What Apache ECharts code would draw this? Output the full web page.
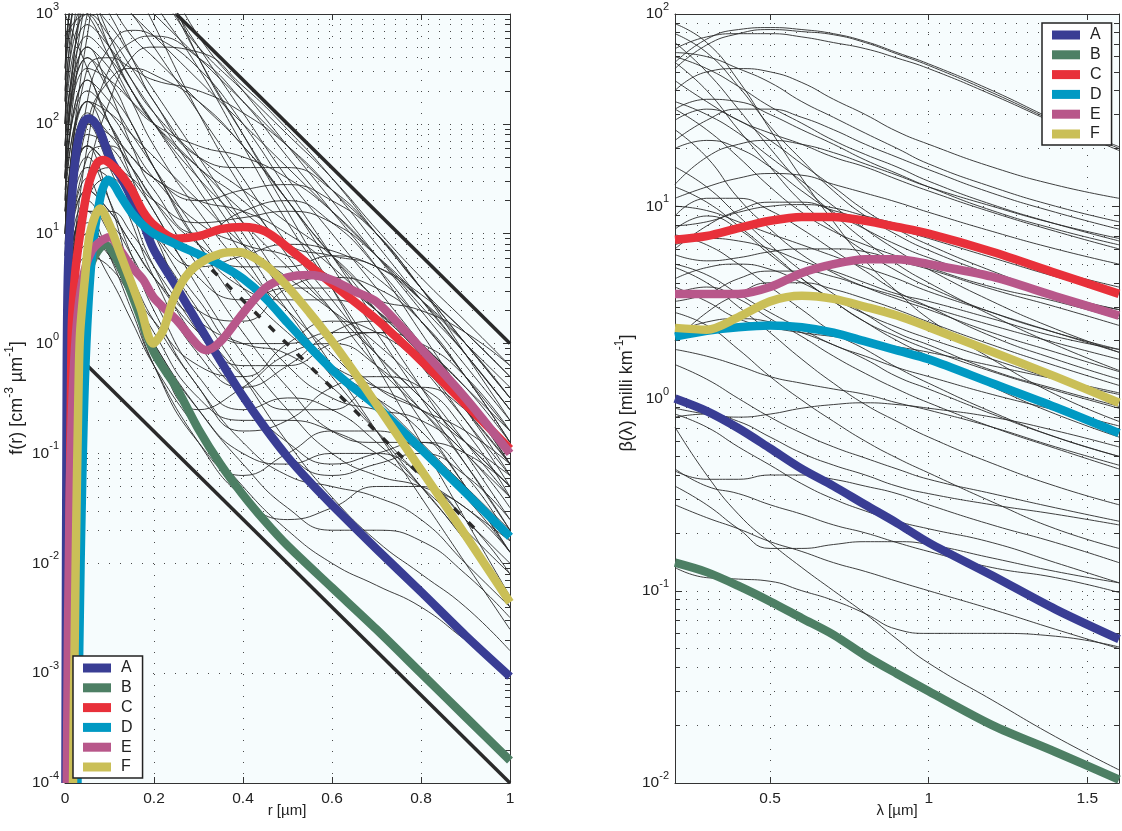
<!DOCTYPE html>
<html>
<head>
<meta charset="utf-8">
<script src="https://cdn.jsdelivr.net/npm/echarts@6/dist/echarts.min.js"></script>
<style>
  html, body { margin: 0; padding: 0; background: #ffffff; }
  #chart { width: 1122px; height: 831px; }
</style>
</head>
<body>
<div id="chart"></div>
<script>
// ---------- size distributions f(r), left panel ----------
const radiusTicks = [0, 0.2, 0.4, 0.6, 0.8, 1];
const radiusGrid = [0, 0.05, 0.1, 0.15, 0.2, 0.3, 0.4, 0.5, 0.6, 0.7, 0.8, 0.9, 1.0];

// ensemble of candidate distributions (values at radiusGrid)
const sizeEnsemble = [
  [100, 4000, 6300, 5000, 3200, 630, 200, 63, 20, 6.3, 2, 0.63, 0.2],
  [32, 1600, 3200, 3200, 2000, 500, 126, 32, 10, 3.2, 1, 0.32, 0.1],
  [320, 3200, 2500, 1600, 1000, 400, 160, 63, 25, 10, 3.2, 1.26, 0.5],
  [63, 2000, 4000, 2500, 1260, 320, 63, 12.6, 3.2, 0.8, 0.2, 0.05, 0.0126],
  [160, 6300, 5000, 2000, 800, 126, 25, 6.3, 2, 0.63, 0.25, 0.1, 0.04],
  [10, 630, 2500, 2000, 1600, 500, 200, 80, 32, 11, 4, 1.6, 0.63],
  [3.2, 160, 500, 710, 630, 320, 100, 25, 6.3, 1.6, 0.4, 0.1, 0.025],
  [1, 63, 320, 560, 630, 400, 160, 50, 16, 5, 1.26, 0.32, 0.08],
  [10, 320, 400, 320, 250, 200, 126, 63, 25, 8, 2.5, 0.8, 0.25],
  [32, 500, 320, 160, 100, 63, 50, 32, 16, 6.3, 2.2, 0.8, 0.25],
  [2, 32, 160, 400, 500, 450, 220, 89, 32, 10, 3.2, 1, 0.32],
  [6.3, 100, 250, 320, 280, 160, 63, 20, 5, 1.26, 0.32, 0.08, 0.02],
  [3200, 1600, 500, 200, 100, 32, 12.6, 5, 2, 0.8, 0.32, 0.126, 0.05],
  [1600, 1000, 400, 160, 63, 16, 5, 2, 0.8, 0.32, 0.126, 0.05, 0.02],
  [6300, 2000, 630, 250, 126, 50, 25, 12.6, 6.3, 2.5, 1, 0.4, 0.16],
  [630, 1000, 630, 320, 160, 40, 10, 2.5, 0.63, 0.16, 0.04, 0.01, 0.0025],
  [1000, 320, 100, 50, 32, 20, 16, 10, 5, 2, 0.8, 0.25, 0.08],
  [3.2, 25, 40, 32, 20, 12.6, 14, 16, 12.6, 6.3, 2.5, 0.8, 0.25],
  [16, 63, 40, 20, 10, 5, 6.3, 8, 7, 4, 1.6, 0.5, 0.16],
  [6.3, 160, 100, 40, 16, 4, 2.5, 3.2, 3.2, 2, 0.8, 0.25, 0.063],
  [32, 200, 126, 63, 32, 12.6, 8, 6.3, 4, 2, 0.8, 0.32, 0.1],
  [1.6, 20, 32, 20, 10, 2.5, 1, 1, 1.26, 1.26, 0.8, 0.32, 0.1],
  [10, 100, 80, 50, 32, 20, 25, 28, 20, 10, 3.2, 1, 0.32],
  [4, 50, 63, 40, 20, 8, 5, 5, 6.3, 5, 2.8, 1.26, 0.5],
  [20, 250, 160, 80, 40, 10, 3.2, 1.26, 0.63, 0.4, 0.25, 0.126, 0.063],
  [1, 10, 8, 3.2, 1.26, 0.32, 0.2, 0.2, 0.16, 0.1, 0.05, 0.02, 0.008],
  [3.2, 20, 10, 4, 1.6, 0.4, 0.126, 0.063, 0.05, 0.04, 0.025, 0.01, 0.004],
  [0.63, 6.3, 5, 2.5, 1, 0.25, 0.1, 0.08, 0.1, 0.1, 0.063, 0.025, 0.01],
  [2, 16, 12.6, 6.3, 2.5, 0.5, 0.25, 0.32, 0.25, 0.126, 0.05, 0.016, 0.005],
  [1.26, 8, 4, 1.6, 0.63, 0.16, 0.05, 0.02, 0.01, 0.0063, 0.004, 0.002, 0.001],
  [2.5, 12.6, 6.3, 2.5, 1, 0.25, 0.08, 0.032, 0.02, 0.02, 0.016, 0.008, 0.0032],
  [32, 400, 250, 100, 40, 8, 2, 0.63, 0.32, 0.25, 0.2, 0.1, 0.032],
  [10, 126, 80, 40, 20, 5, 1.26, 0.4, 0.16, 0.126, 0.126, 0.063, 0.016],
  [100, 800, 500, 250, 126, 32, 8, 2, 0.63, 0.32, 0.16, 0.05, 0.0126],
  [5, 80, 63, 32, 16, 3.2, 0.8, 0.25, 0.1, 0.063, 0.05, 0.032, 0.0126],
  [63, 630, 400, 200, 100, 25, 6.3, 1.6, 0.5, 0.16, 0.05, 0.016, 0.004],
  [3.2, 40, 32, 16, 8, 2, 0.5, 0.126, 0.04, 0.016, 0.008, 0.004, 0.0016],
  [200, 1260, 800, 400, 200, 50, 12.6, 3.2, 1, 0.4, 0.25, 0.16, 0.08],
  [16, 160, 126, 80, 50, 20, 8, 4, 2, 1, 0.4, 0.126, 0.04],
  [100, 8000, 10000, 6300, 3200, 400, 80, 20, 6.3, 2, 0.63, 0.2, 0.063],
  [32, 3200, 8000, 6300, 2500, 400, 80, 16, 3.2, 0.63, 0.126, 0.025, 0.005],
  [500, 2500, 1260, 630, 400, 160, 63, 20, 6.3, 2.5, 1, 0.4, 0.126],
  [20, 1000, 1600, 1000, 500, 126, 32, 8, 2.5, 0.8, 0.32, 0.126, 0.05],
  [1, 10, 6.3, 3.2, 1.6, 0.63, 0.5, 1, 1.6, 1.26, 0.63, 0.2, 0.05],
  [2.5, 25, 16, 8, 4, 1.26, 0.63, 0.63, 1, 1.26, 1, 0.5, 0.16],
  [8, 63, 40, 20, 8, 1.6, 0.5, 0.25, 0.25, 0.4, 0.4, 0.25, 0.1],
  [1.6, 16, 16, 10, 5, 1.26, 0.32, 0.1, 0.063, 0.08, 0.1, 0.063, 0.025],
  [40, 320, 250, 160, 100, 40, 16, 8, 4, 2.5, 2, 1.26, 0.63],
  [250, 2000, 1600, 1000, 630, 250, 100, 40, 16, 6.3, 2.5, 1, 0.4],
  [10, 63, 20, 4, 1, 0.25, 0.4, 0.8, 1, 0.63, 0.25, 0.08, 0.02],
  [3.2, 32, 10, 2.5, 0.63, 0.126, 0.063, 0.1, 0.16, 0.16, 0.1, 0.04, 0.0126],
  [100, 500, 200, 63, 25, 10, 16, 20, 12.6, 5, 1.6, 0.5, 0.126],
  [32, 250, 100, 32, 10, 2, 1.6, 3.2, 4, 3.2, 1.6, 0.5, 0.126],
  [320, 2000, 1000, 400, 160, 50, 40, 40, 25, 10, 3.2, 0.8, 0.2],
  [6.3, 50, 20, 6.3, 2, 0.4, 0.16, 0.2, 0.4, 0.5, 0.4, 0.16, 0.04],
  [16, 100, 40, 12.6, 4, 0.8, 0.4, 0.63, 1.26, 1.6, 1, 0.32, 0.08],
  [2, 16, 6.3, 2, 0.63, 0.126, 0.04, 0.025, 0.032, 0.05, 0.05, 0.025, 0.008],
  [63, 400, 200, 100, 40, 8, 3.2, 2.5, 2.5, 1.6, 0.63, 0.25, 0.08],
  [160, 1000, 500, 200, 100, 40, 20, 8, 6.3, 5, 2.5, 1, 0.32],
  [4, 25, 16, 8, 4, 1.6, 1, 0.8, 0.4, 0.16, 0.063, 0.032, 0.016],
  [25, 160, 63, 16, 5, 1, 0.32, 0.126, 0.08, 0.1, 0.126, 0.1, 0.05]
];

// bounding lines and reference slope [r, f]
const upperBound = [[0.25, 1000], [1.0, 1]];
const lowerBound = [[0.05, 0.63], [1.0, 1e-4]];
const referenceSlope = [[0.33, 4.7], [0.93, 0.019]];

// highlighted distributions [r, f]
const distA = [[0.001,1e-4],[0.004,0.6],[0.007,5],[0.015,20],[0.026,58],[0.04,100],[0.052,112],[0.065,105],[0.08,83],[0.1,50],[0.125,33],[0.15,21],[0.175,12.6],[0.2,7.1],[0.25,3.3],[0.3,1.5],[0.35,0.69],[0.4,0.33],[0.45,0.17],[0.5,0.093],[0.55,0.055],[0.6,0.034],[0.7,0.0135],[0.8,0.0055],[0.9,0.0022],[1.0,0.00093]];
const distB = [[0.008,1e-4],[0.012,0.01],[0.02,0.3],[0.035,2],[0.06,5.5],[0.09,8],[0.11,6.5],[0.13,4.5],[0.16,2.2],[0.2,0.83],[0.25,0.4],[0.3,0.166],[0.35,0.079],[0.4,0.042],[0.45,0.024],[0.5,0.0145],[0.6,0.006],[0.7,0.0025],[0.8,0.001],[0.9,0.0004],[1.0,0.00016]];
const distC = [[0.006,1e-4],[0.01,0.01],[0.015,1.3],[0.022,4],[0.034,10],[0.052,27],[0.072,44],[0.086,47],[0.1,44],[0.125,35],[0.15,25],[0.175,16],[0.2,12],[0.25,9],[0.3,9.5],[0.35,11],[0.4,11.5],[0.45,10.5],[0.5,7.5],[0.6,3.5],[0.7,1.66],[0.8,0.7],[0.9,0.28],[1.0,0.11]];
const distD = [[0.028,1e-4],[0.035,0.01],[0.045,0.5],[0.06,6],[0.08,22],[0.097,31],[0.11,28],[0.125,22],[0.15,15.5],[0.175,12],[0.2,10],[0.25,8],[0.3,6.5],[0.35,5.2],[0.4,3.9],[0.45,2.6],[0.5,1.55],[0.55,0.93],[0.6,0.58],[0.65,0.39],[0.7,0.27],[0.8,0.11],[0.9,0.044],[1.0,0.0174]];
const distE = [[0.004,1e-4],[0.01,0.03],[0.02,0.6],[0.035,3],[0.06,7],[0.1,9.3],[0.125,7],[0.15,5],[0.176,3.8],[0.2,2.6],[0.25,1.65],[0.3,0.95],[0.318,0.87],[0.35,1.05],[0.393,1.74],[0.45,3.2],[0.5,4.0],[0.55,4.2],[0.6,3.8],[0.65,3.0],[0.7,2.4],[0.8,0.9],[0.9,0.32],[1.0,0.1]];
const distF = [[0.018,1e-4],[0.024,0.01],[0.03,0.32],[0.034,1.26],[0.045,4],[0.056,10],[0.079,17],[0.1,12],[0.124,6.6],[0.15,3.5],[0.17,2.1],[0.198,1.0],[0.22,1.3],[0.243,2.5],[0.27,4],[0.303,5.4],[0.35,6.6],[0.39,6.8],[0.45,5.2],[0.5,3.3],[0.55,1.9],[0.6,1.05],[0.65,0.55],[0.7,0.28],[0.8,0.071],[0.9,0.018],[1.0,0.0044]];

// ---------- backscatter spectra beta(lambda), right panel ----------
const lambdaTicks = [0.5, 1, 1.5];
const lambdaGrid = [0.2, 0.3, 0.4, 0.5, 0.6, 0.7, 0.8, 0.9, 1.0, 1.2, 1.4, 1.6];

const betaEnsemble = [
  [56, 74, 83, 85, 83, 79, 72, 63, 55, 40, 28, 20.4],
  [52, 69, 79, 83, 81, 78, 71, 62, 54, 39, 27.5, 20],
  [66, 76, 79, 79, 76, 71, 66, 59, 52, 38, 27, 19.5],
  [63, 60, 52, 44, 35, 29, 24, 20, 16.6, 12.6, 10, 8.3],
  [40, 50, 52, 50, 44, 36, 30, 24.5, 21, 16, 12.9, 11],
  [79, 63, 42, 26, 17.4, 12, 8.9, 7.1, 5.9, 4.4, 3.4, 2.8],
  [32, 36, 35, 30, 25, 21, 17.4, 14.8, 12.6, 9.5, 7.6, 6.3],
  [22, 28, 32, 32, 29, 25, 21, 18, 15.5, 11.7, 9.3, 7.6],
  [89, 71, 45, 25, 14, 8.3, 5.2, 3.6, 2.6, 1.6, 1.05, 0.76],
  [56, 40, 25, 16, 10.5, 7.6, 5.8, 4.6, 3.8, 2.8, 2.2, 1.8],
  [32, 25, 18, 12.6, 9.3, 7.4, 6.3, 5.5, 4.8, 3.8, 3.2, 2.6],
  [20, 22, 20, 16, 12, 9.3, 7.6, 6.3, 5.4, 4.2, 3.4, 2.9],
  [13, 18, 21, 22, 21, 19, 16.6, 14.5, 12.6, 10, 8.1, 6.8],
  [11, 12.6, 14, 14.8, 14.5, 13, 11.7, 10.5, 9.3, 7.4, 6, 5],
  [10, 9.5, 8.3, 7.2, 6.3, 5.5, 4.8, 4.2, 3.6, 2.8, 2.2, 1.74],
  [8.9, 11, 11, 9.5, 7.6, 5.9, 4.6, 3.6, 3, 2.1, 1.6, 1.26],
  [7.9, 8.3, 9.3, 10, 10.2, 9.8, 8.9, 8.1, 7.2, 5.8, 4.6, 3.8],
  [7.1, 6.3, 5, 3.8, 2.9, 2.2, 1.8, 1.45, 1.2, 0.85, 0.63, 0.5],
  [6.3, 6.8, 6.6, 6, 5.2, 4.6, 4, 3.5, 3.2, 2.6, 2.1, 1.8],
  [5.6, 5.2, 5.4, 5.8, 6, 6, 5.8, 5.2, 4.7, 3.7, 3, 2.4],
  [5, 4.4, 3.5, 2.8, 2.3, 1.9, 1.66, 1.45, 1.3, 1.05, 0.87, 0.72],
  [4.2, 4.8, 5, 4.7, 4, 3.3, 2.75, 2.35, 2.05, 1.6, 1.26, 1.05],
  [3.8, 3.2, 2.6, 2.35, 2.2, 2.1, 2, 1.86, 1.74, 1.48, 1.26, 1.07],
  [3.2, 3.5, 4.2, 4.6, 4.6, 4.3, 3.8, 3.4, 3, 2.4, 1.95, 1.6],
  [2.8, 2.4, 1.8, 1.3, 0.98, 0.76, 0.6, 0.49, 0.41, 0.29, 0.21, 0.166],
  [2.2, 2.5, 2.6, 2.5, 2.2, 1.9, 1.6, 1.3, 1.12, 0.83, 0.63, 0.5],
  [1.8, 1.66, 1.48, 1.3, 1.2, 1.12, 1.05, 0.95, 0.87, 0.71, 0.56, 0.45],
  [1.5, 1.26, 1, 0.8, 0.66, 0.56, 0.49, 0.43, 0.38, 0.32, 0.27, 0.23],
  [0.89, 0.83, 0.8, 0.83, 0.89, 0.93, 0.95, 0.93, 0.89, 0.8, 0.68, 0.56],
  [0.83, 0.71, 0.56, 0.45, 0.36, 0.3, 0.26, 0.23, 0.21, 0.178, 0.14, 0.11],
  [0.8, 0.83, 0.76, 0.63, 0.52, 0.45, 0.4, 0.35, 0.32, 0.28, 0.25, 0.22],
  [0.42, 0.38, 0.38, 0.4, 0.4, 0.38, 0.35, 0.32, 0.28, 0.22, 0.178, 0.14],
  [0.132, 0.117, 0.115, 0.112, 0.1, 0.089, 0.076, 0.063, 0.06, 0.06, 0.058, 0.051],
  [0.71, 0.4, 0.25, 0.178, 0.132, 0.1, 0.076, 0.056, 0.042, 0.027, 0.0174, 0.0117],
  [0.28, 0.24, 0.21, 0.18, 0.16, 0.14, 0.126, 0.112, 0.1, 0.08, 0.063, 0.05],
  [0.35, 0.28, 0.21, 0.166, 0.166, 0.174, 0.18, 0.18, 0.174, 0.148, 0.126, 0.11],
  [0.43, 0.35, 0.32, 0.28, 0.25, 0.22, 0.2, 0.178, 0.16, 0.132, 0.117, 0.098],
  [45, 35, 28, 24, 21, 18, 16, 13.8, 12, 9.3, 7.4, 6],
  [25, 18, 11, 7.6, 5.6, 4.5, 3.8, 3.3, 2.9, 2.2, 1.74, 1.38],
  [12.6, 10.5, 7.9, 5.8, 4.2, 3.2, 2.5, 2, 1.66, 1.15, 0.83, 0.63],
  [6, 7.9, 9.5, 10.5, 10.5, 9.5, 8.5, 7.6, 6.8, 5.4, 4.3, 3.5],
  [71, 50, 32, 20, 13, 9.1, 6.6, 5, 4, 2.7, 1.9, 1.4],
  [35, 30, 24, 18, 13.5, 10, 7.6, 5.9, 4.7, 3.2, 2.3, 1.74],
  [2, 2.8, 3.5, 4, 4, 3.7, 3.3, 2.9, 2.5, 1.9, 1.48, 1.17],
  [16, 12.6, 8.9, 6.3, 4.6, 3.5, 2.75, 2.2, 1.9, 1.4, 1.12, 0.91],
  [4.8, 4, 3, 2.2, 1.6, 1.2, 0.93, 0.76, 0.63, 0.46, 0.35, 0.28],
  [28, 32, 28, 22, 16.6, 12.6, 9.5, 7.6, 6.3, 4.6, 3.5, 2.9],
  [3.5, 3.8, 3.3, 2.6, 2.1, 1.66, 1.35, 1.12, 0.95, 0.71, 0.55, 0.43],
  [7.6, 8.9, 7.6, 5.6, 4.2, 3.2, 2.5, 2.1, 1.8, 1.38, 1.1, 0.89],
  [60, 52, 42, 33, 27, 22, 18.6, 16, 13.5, 10.2, 8.1, 6.6]
];

// highlighted spectra [lambda, beta]
const betaA = [[0.2,1.0],[0.3,0.86],[0.4,0.7],[0.5,0.55],[0.6,0.43],[0.7,0.35],[0.8,0.28],[0.9,0.225],[1.0,0.178],[1.2,0.12],[1.4,0.08],[1.6,0.056]];
const betaB = [[0.2,0.14],[0.3,0.125],[0.4,0.106],[0.5,0.088],[0.6,0.072],[0.7,0.059],[0.8,0.046],[0.9,0.037],[1.0,0.030],[1.2,0.02],[1.4,0.0145],[1.6,0.0104]];
const betaC = [[0.2,6.7],[0.3,7.0],[0.4,7.7],[0.5,8.4],[0.6,8.8],[0.7,8.8],[0.8,8.4],[0.9,7.8],[1.0,7.2],[1.2,5.8],[1.4,4.5],[1.6,3.5]];
const betaD = [[0.2,2.1],[0.3,2.25],[0.4,2.35],[0.5,2.4],[0.6,2.35],[0.7,2.2],[0.8,1.98],[0.9,1.78],[1.0,1.6],[1.2,1.2],[1.4,0.9],[1.6,0.66]];
const betaE = [[0.2,3.5],[0.3,3.5],[0.4,3.5],[0.5,3.8],[0.6,4.5],[0.7,5.0],[0.8,5.3],[0.9,5.3],[1.0,5.0],[1.2,4.3],[1.4,3.4],[1.6,2.7]];
const betaF = [[0.2,2.33],[0.3,2.28],[0.4,2.65],[0.5,3.2],[0.6,3.42],[0.7,3.3],[0.8,3.0],[0.9,2.7],[1.0,2.35],[1.2,1.75],[1.4,1.3],[1.6,0.95]];

const caseNames = ['A', 'B', 'C', 'D', 'E', 'F'];

// ---------- styling ----------
const FONT = '"Liberation Sans", Arial, Helvetica, sans-serif';
const caseColors = ['#393d94', '#4d7f64', '#e8303a', '#0099c3', '#b8578a', '#cabf57'];
const ink = '#2a2a2a';
const panelBg = '#f6fcfd';
const dotted = { type: [1, 10], color: '#4a4a4a', width: 1 };
const TICK_FONT = 15.5;
const TITLE_FONT = 18;

const panelL = { left: 65, top: 14, width: 445, height: 769 };
const panelR = { left: 675, top: 14, width: 444, height: 769 };

const tickRich = {
  b: { fontSize: TICK_FONT, color: '#222', fontFamily: FONT },
  s: { fontSize: 11, color: '#222', fontFamily: FONT, padding: [0, 0, 14, 0] }
};
const powerLabel = v => '{b|10}{s|' + Math.round(Math.log10(v)) + '}';

function minorDecadeValues(lo, hi) {
  const out = [];
  for (let e = lo; e < hi; e++) for (let m = 2; m <= 9; m++) out.push(m * Math.pow(10, e));
  return out;
}

// dotted minor grid + short minor ticks on both vertical frame edges
function gridHelper(xi, yi, xMin, xMax, eLo, eHi, widthPx, verticalLines) {
  const tick = { type: 'solid', color: '#333', width: 1 };
  const dx = 5 / widthPx * (xMax - xMin);
  const lines = [];
  minorDecadeValues(eLo, eHi).forEach(v => {
    lines.push({ yAxis: v, lineStyle: dotted });
    lines.push([{ coord: [xMin, v], lineStyle: tick }, { coord: [xMin + dx, v], lineStyle: tick }]);
    lines.push([{ coord: [xMax - dx, v], lineStyle: tick }, { coord: [xMax, v], lineStyle: tick }]);
  });
  verticalLines.forEach(x => lines.push({ xAxis: x, lineStyle: dotted }));
  return {
    type: 'line', xAxisIndex: xi, yAxisIndex: yi, silent: true, z: 1,
    data: [[xMin, Math.pow(10, eLo)]], showSymbol: false, lineStyle: { width: 0 },
    markLine: { silent: true, z: 1, symbol: ['none', 'none'], label: { show: false }, animation: false, data: lines }
  };
}

function thinSeries(xs, rows, xi, yi) {
  return rows.map(row => ({
    type: 'line', xAxisIndex: xi, yAxisIndex: yi, silent: true, z: 2,
    data: xs.map((x, i) => [x, row[i]]),
    showSymbol: false, smooth: 0.5,
    lineStyle: { color: ink, width: 0.9 }
  }));
}

function boldSeries(curves, xi, yi) {
  return curves.map((pts, k) => ({
    name: caseNames[k], type: 'line', xAxisIndex: xi, yAxisIndex: yi, z: 5,
    data: pts, showSymbol: false, smooth: 0.3,
    color: caseColors[k], itemStyle: { color: caseColors[k] },
    lineStyle: { color: caseColors[k], width: 8.5, cap: 'butt', join: 'round' }
  }));
}

function frameAxisX(gridIndex, position, min, max, extra) {
  return Object.assign({
    type: 'value', gridIndex, position, min, max,
    axisLine: { show: true, onZero: false, lineStyle: { color: '#333', width: 1 } },
    axisTick: { show: true, inside: true, length: 6, lineStyle: { color: '#333' } },
    axisLabel: { show: false },
    splitLine: { show: false }
  }, extra);
}
function frameAxisY(gridIndex, position, min, max, split, extra) {
  return Object.assign({
    type: 'log', logBase: 10, gridIndex, position, min, max, splitNumber: split,
    axisLine: { show: true, onZero: false, lineStyle: { color: '#333', width: 1 } },
    axisTick: { show: true, inside: true, length: 7, lineStyle: { color: '#333' } },
    axisLabel: { show: false },
    splitLine: { show: false }
  }, extra);
}

const xLabelStyle = { show: true, color: '#222', fontSize: TICK_FONT, fontFamily: FONT, margin: 8 };
const legendBase = {
  data: caseNames, orient: 'vertical', icon: 'rect', z: 20,
  itemWidth: 28, itemHeight: 9, itemGap: 3.8,
  backgroundColor: '#ffffff', borderColor: '#222', borderWidth: 1.5, borderRadius: 0,
  padding: [4, 10, 3, 10],
  textStyle: { fontSize: 16, lineHeight: 15, color: '#222', fontFamily: FONT, padding: [0, 0, 0, 5] }
};
const titleRich = {
  t: { fontSize: TITLE_FONT, fill: '#222', fontFamily: FONT },
  s: { fontSize: 12, fill: '#222', fontFamily: FONT, padding: [0, 0, 14, 0] }
};

const option = {
  animation: false,
  backgroundColor: '#ffffff',
  textStyle: { fontFamily: FONT },
  grid: [
    Object.assign({ show: true, backgroundColor: panelBg, borderWidth: 0 }, panelL),
    Object.assign({ show: true, backgroundColor: panelBg, borderWidth: 0 }, panelR)
  ],
  xAxis: [
    frameAxisX(0, 'bottom', 0, 1, {
      interval: 0.2,
      axisLabel: Object.assign({}, xLabelStyle, { formatter: v => String(+v.toFixed(1)) }),
      splitLine: { show: true, lineStyle: dotted }
    }),
    frameAxisX(0, 'top', 0, 1, { interval: 0.2 }),
    frameAxisX(1, 'bottom', 0.2, 1.6, {
      axisTick: { show: true, inside: true, length: 6, lineStyle: { color: '#333' }, customValues: lambdaTicks },
      axisLabel: Object.assign({}, xLabelStyle, { customValues: lambdaTicks, formatter: v => String(+v.toFixed(1)) })
    }),
    frameAxisX(1, 'top', 0.2, 1.6, {
      axisTick: { show: true, inside: true, length: 6, lineStyle: { color: '#333' }, customValues: lambdaTicks }
    })
  ],
  yAxis: [
    frameAxisY(0, 'left', 1e-4, 1e3, 7, {
      axisLabel: { show: true, formatter: powerLabel, rich: tickRich, margin: 6 },
      splitLine: { show: true, lineStyle: dotted }
    }),
    frameAxisY(0, 'right', 1e-4, 1e3, 7, {}),
    frameAxisY(1, 'left', 1e-2, 1e2, 4, {
      axisLabel: { show: true, formatter: powerLabel, rich: tickRich, margin: 6 },
      splitLine: { show: true, lineStyle: dotted }
    }),
    frameAxisY(1, 'right', 1e-2, 1e2, 4, {})
  ],
  legend: [
    Object.assign({ left: 73, top: 656 }, legendBase),
    Object.assign({ left: 1042, top: 23 }, legendBase)
  ],
  graphic: [
    {
      type: 'text', x: 17, y: 398, rotation: Math.PI / 2,
      style: { text: '{t|f(r) [cm}{s|-3}{t| \u00b5m}{s|-1}{t|]}', align: 'center', verticalAlign: 'middle', rich: titleRich }
    },
    {
      type: 'text', x: 627, y: 393, rotation: Math.PI / 2,
      style: { text: '{t|\u03b2(\u03bb) [milli km}{s|-1}{t|]}', align: 'center', verticalAlign: 'middle', rich: titleRich }
    },
    {
      type: 'text', x: 287, y: 811,
      style: { text: 'r [\u00b5m]', fontSize: 15, fill: '#222', fontFamily: FONT, align: 'center', verticalAlign: 'middle' }
    },
    {
      type: 'text', x: 897, y: 811,
      style: { text: '\u03bb [\u00b5m]', fontSize: 15, fill: '#222', fontFamily: FONT, align: 'center', verticalAlign: 'middle' }
    }
  ],
  series: [].concat(
    [gridHelper(0, 0, 0, 1, -4, 3, panelL.width, [])],
    [gridHelper(2, 2, 0.2, 1.6, -2, 2, panelR.width, lambdaTicks)],
    thinSeries(radiusGrid, sizeEnsemble, 0, 0),
    thinSeries(lambdaGrid, betaEnsemble, 2, 2),
    [
      { type: 'line', xAxisIndex: 0, yAxisIndex: 0, silent: true, z: 3, data: upperBound, showSymbol: false, lineStyle: { color: ink, width: 3.5 } },
      { type: 'line', xAxisIndex: 0, yAxisIndex: 0, silent: true, z: 3, data: lowerBound, showSymbol: false, lineStyle: { color: ink, width: 3.5 } },
      { type: 'line', xAxisIndex: 0, yAxisIndex: 0, silent: true, z: 3, data: referenceSlope, showSymbol: false, lineStyle: { color: ink, width: 3.5, type: [8, 12] } }
    ],
    boldSeries([distA, distB, distC, distD, distE, distF], 0, 0),
    boldSeries([betaA, betaB, betaC, betaD, betaE, betaF], 2, 2)
  )
};

const chart = echarts.init(document.getElementById('chart'), null, { renderer: 'canvas' });
chart.setOption(option);
</script>
</body>
</html>
